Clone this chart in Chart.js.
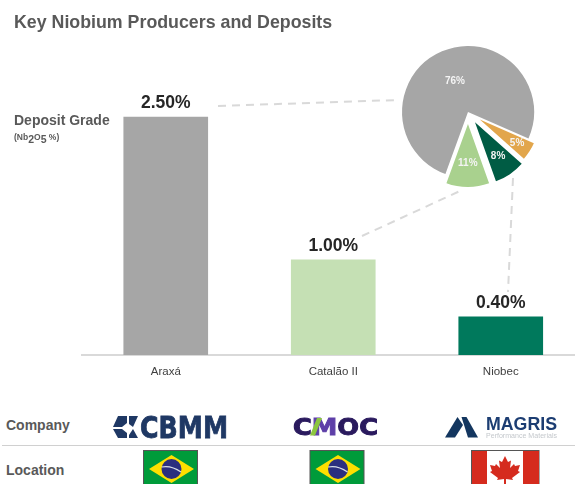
<!DOCTYPE html>
<html><head><meta charset="utf-8">
<script src="https://cdn.jsdelivr.net/npm/chart.js@4"></script>
<style>
html,body{margin:0;padding:0;width:575px;height:484px;overflow:hidden;background:#fff;font-family:"Liberation Sans",Arial,sans-serif}
.t{position:absolute;white-space:nowrap;font-weight:bold;color:#595959;line-height:1}
canvas{position:absolute}
#barBox{position:absolute;left:0;top:0;width:620px;height:400px}
#pieBox{position:absolute;left:368px;top:12px;width:200px;height:200px}
svg{position:absolute;left:0;top:0}
sub{font-size:10.5px;vertical-align:-3px;line-height:0}
</style></head><body>
<div id="barBox"><canvas id="bars"></canvas></div>
<div id="pieBox"><canvas id="pie"></canvas></div>
<div class="t" style="left:14px;top:14px;font-size:17.8px">Key Niobium Producers and Deposits</div>
<div class="t" style="left:14px;top:113px;font-size:14px">Deposit Grade</div>
<div class="t" style="left:14px;top:133px;font-size:8.5px">(Nb<sub>2</sub>O<sub>5</sub> %)</div>
<div class="t" style="left:6px;top:418px;font-size:14px">Company</div>
<div class="t" style="left:6px;top:463px;font-size:14px">Location</div>
<svg width="575" height="484" viewBox="0 0 575 484">
  <line x1="2" y1="445.5" x2="575" y2="445.5" stroke="#d0d0d0" stroke-width="1.2"/>
  <!-- CBMM -->
  <g fill="#1f3864">
    <polygon points="118,416 127,416 127,423 122,427 113,427"/>
    <polygon points="129,416 138,416 133,427 129,424"/>
    <polygon points="113,429 122,429 127,433 127,438 118,438"/>
    <polygon points="129,435 133,429 138,438 129,438"/>
  </g>
  <text x="140" y="438" font-family="DejaVu Sans" font-weight="bold" font-size="30" fill="#1f3864" stroke="#1f3864" stroke-width="0.8" textLength="88" lengthAdjust="spacingAndGlyphs">CBMM</text>
  <!-- CMOC -->
  <text x="293" y="435" font-family="DejaVu Sans" font-weight="bold" font-size="23.500" fill="#2a1a5e" stroke="#2a1a5e" stroke-width="1" textLength="85" lengthAdjust="spacingAndGlyphs">C<tspan fill="#5e3fa8" stroke="#5e3fa8">M</tspan>OC</text>
  <polygon points="310,435.500 317,418 322,418 315,435.500" fill="#8cc63f"/>
  <!-- MAGRIS -->
  <polygon points="445,437.500 457.500,417 463,425 455,437.500" fill="#13365f"/>
  <polygon points="461.500,417 466.500,417 478,437.500 468,437.500" fill="#13365f"/>
  <text x="486" y="429.500" font-family="Liberation Sans" font-weight="bold" font-size="19" fill="#1c3d72" textLength="71" lengthAdjust="spacingAndGlyphs">MAGRIS</text>
  <text x="486" y="438" font-family="Liberation Sans" font-size="6.500" fill="#c4c8cc" textLength="71" lengthAdjust="spacingAndGlyphs">Performance Materials</text>
  <!-- Brazil flags -->
  <g id="br1">
    <rect x="143.500" y="450.500" width="54" height="40" fill="#009b3a" stroke="#555" stroke-width="1"/>
    <polygon points="149,469 171.500,455 194,469 171.500,483" fill="#fedf00"/>
    <circle cx="171.500" cy="469" r="10" fill="#2b2f7f"/>
    <path d="M161.700,467 Q171,465 181,472" fill="none" stroke="#d8dfe8" stroke-width="1.200"/>
  </g>
  <use href="#br1" x="166.500"/>
  <!-- Canada flag -->
  <rect x="471.500" y="450.500" width="67.500" height="40" fill="#fff" stroke="#555" stroke-width="1"/>
  <rect x="472" y="451" width="15" height="39" fill="#d52b1e"/>
  <rect x="523" y="451" width="16" height="39" fill="#d52b1e"/>
  <polygon fill="#d52b1e" points="505,456 508,462 511,460.500 510,468 514,464 515,466 520,465 518,471 520,472 512,478 513,480 506,479 506,485 504,485 504,479 497,480 498,478 490,472 492,471 490,465 495,466 496,464 500,468 499,460.500 502,462"/>
</svg>
<script>
const categories = ['Araxá', 'Catalão II', 'Niobec'];
const gradeValues = [2.5, 1.0, 0.4];
const gradeLabels = ['2.50%', '1.00%', '0.40%'];
const barColors = ['#a6a6a6', '#c5e0b4', '#00795c'];

const pieSections = ['Other', 'Niobec', 'Catalão II share', 'Catalão II'];
const pieValues = [76, 5, 8, 11];
const pieColors = ['#a6a6a6', '#e2a64c', '#005c44', '#a9d18e'];
const pieShift = [0, 14, 12.5, 12];
const pieRadii = [66, 59, 62.5, 63];
const pieLabelRatio = [0.5, 0.75, 0.66, 0.63];

const connectors = [
  [218, 106, 398, 100],
  [362, 236, 460, 191],
  [513, 178, 508, 292]
];

Chart.defaults.animation = false;
Chart.defaults.responsive = true;
Chart.defaults.maintainAspectRatio = false;

const barExtras = {
  id: 'barExtras',
  afterDatasetsDraw(chart) {
    const c = chart.ctx, meta = chart.getDatasetMeta(0);
    c.save();
    c.font = 'bold 17.5px "Liberation Sans"';
    c.fillStyle = '#262626';
    c.textAlign = 'center';
    c.textBaseline = 'alphabetic';
    meta.data.forEach((b, i) => c.fillText(gradeLabels[i], b.x, b.y - 9));
    c.strokeStyle = '#d9d9d9';
    c.lineWidth = 2;
    c.setLineDash([8, 6]);
    connectors.forEach(p => {
      c.beginPath(); c.moveTo(p[0], p[1]); c.lineTo(p[2], p[3]); c.stroke();
    });
    c.restore();
  }
};

new Chart(document.getElementById('bars'), {
  type: 'bar',
  data: { labels: categories, datasets: [{ data: gradeValues, backgroundColor: barColors, barThickness: 84 }] },
  options: {
    layout: { padding: { left: 82, right: 35.5, top: 69.4, bottom: 0 } },
    plugins: { legend: { display: false }, tooltip: { enabled: false } },
    scales: {
      y: { display: false, min: 0, max: 3 },
      x: {
        grid: { display: false, drawTicks: false },
        border: { color: '#d9d9d9', width: 2 },
        ticks: { color: '#404040', font: { family: 'Liberation Sans', size: 11.5 }, padding: 10, maxRotation: 0 },
        afterFit(s) { s.height = 45; }
      }
    }
  },
  plugins: [barExtras]
});

const pieExtras = {
  id: 'pieExtras',
  afterDatasetUpdate(chart) {
    chart.getDatasetMeta(0).data.forEach((a, i) => {
      const mid = (a.startAngle + a.endAngle) / 2;
      a.x += Math.cos(mid) * pieShift[i];
      a.y += Math.sin(mid) * pieShift[i];
      a.outerRadius = pieRadii[i];
    });
  },
  afterDatasetsDraw(chart) {
    const c = chart.ctx;
    c.save();
    c.font = 'bold 10px "Liberation Sans"';
    c.fillStyle = '#f4f4f4';
    c.textAlign = 'center';
    c.textBaseline = 'middle';
    chart.getDatasetMeta(0).data.forEach((a, i) => {
      const mid = (a.startAngle + a.endAngle) / 2;
      const r = pieRadii[i] * pieLabelRatio[i];
      c.fillText(pieValues[i] + '%', a.x + Math.cos(mid) * r, a.y + Math.sin(mid) * r);
    });
    c.restore();
  }
};

new Chart(document.getElementById('pie'), {
  type: 'pie',
  data: { labels: pieSections, datasets: [{ data: pieValues, backgroundColor: pieColors, borderWidth: 0, radius: 66 }] },
  options: {
    rotation: 200,
    plugins: { legend: { display: false }, tooltip: { enabled: false } }
  },
  plugins: [pieExtras]
});
</script>
</body></html>
